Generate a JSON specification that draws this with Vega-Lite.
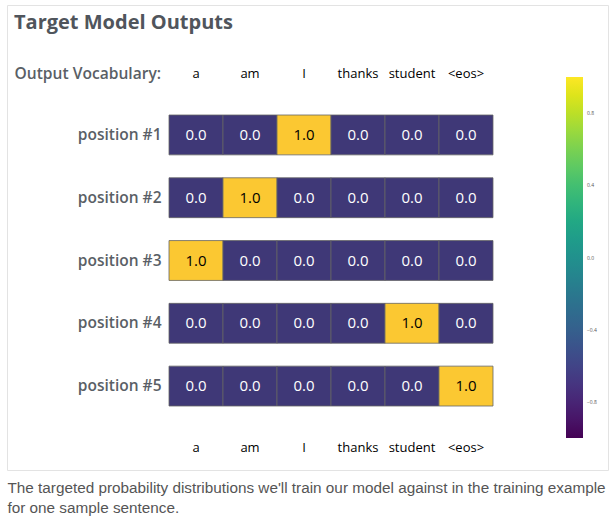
{
  "$schema": "https://vega.github.io/schema/vega-lite/v6.json",
  "autosize": {"type": "none"},
  "padding": {"left": 7, "top": 5, "right": 6, "bottom": 49},
  "width": 601,
  "height": 465,
  "background": "white",
  "view": {"stroke": "#e3e3e3", "strokeWidth": 1},
  "title": {
    "text": "Target Model Outputs",
    "anchor": "start",
    "frame": "group",
    "orient": "top",
    "offset": 0,
    "dx": 7,
    "dy": 38,
    "baseline": "middle",
    "font": "Open Sans",
    "fontSize": 20,
    "fontWeight": "bold",
    "color": "#50555c"
  },
  "data": {
    "values": [
      {"pos": "position #1", "word": "a", "value": 0},
      {"pos": "position #1", "word": "am", "value": 0},
      {"pos": "position #1", "word": "I", "value": 1},
      {"pos": "position #1", "word": "thanks", "value": 0},
      {"pos": "position #1", "word": "student", "value": 0},
      {"pos": "position #1", "word": "<eos>", "value": 0},
      {"pos": "position #2", "word": "a", "value": 0},
      {"pos": "position #2", "word": "am", "value": 1},
      {"pos": "position #2", "word": "I", "value": 0},
      {"pos": "position #2", "word": "thanks", "value": 0},
      {"pos": "position #2", "word": "student", "value": 0},
      {"pos": "position #2", "word": "<eos>", "value": 0},
      {"pos": "position #3", "word": "a", "value": 1},
      {"pos": "position #3", "word": "am", "value": 0},
      {"pos": "position #3", "word": "I", "value": 0},
      {"pos": "position #3", "word": "thanks", "value": 0},
      {"pos": "position #3", "word": "student", "value": 0},
      {"pos": "position #3", "word": "<eos>", "value": 0},
      {"pos": "position #4", "word": "a", "value": 0},
      {"pos": "position #4", "word": "am", "value": 0},
      {"pos": "position #4", "word": "I", "value": 0},
      {"pos": "position #4", "word": "thanks", "value": 0},
      {"pos": "position #4", "word": "student", "value": 1},
      {"pos": "position #4", "word": "<eos>", "value": 0},
      {"pos": "position #5", "word": "a", "value": 0},
      {"pos": "position #5", "word": "am", "value": 0},
      {"pos": "position #5", "word": "I", "value": 0},
      {"pos": "position #5", "word": "thanks", "value": 0},
      {"pos": "position #5", "word": "student", "value": 0},
      {"pos": "position #5", "word": "<eos>", "value": 1}
    ]
  },
  "encoding": {
    "x": {
      "field": "word",
      "type": "nominal",
      "sort": ["a", "am", "I", "thanks", "student", "<eos>"],
      "scale": {"range": [162, 486], "paddingInner": 0, "paddingOuter": 0},
      "axis": null
    },
    "y": {
      "field": "pos",
      "type": "nominal",
      "sort": ["position #1", "position #2", "position #3", "position #4", "position #5"],
      "scale": {"range": [110, 401], "paddingInner": 0.365, "paddingOuter": 0},
      "axis": {
        "orient": "left",
        "offset": -162,
        "title": null,
        "domain": false,
        "ticks": false,
        "labelPadding": 8,
        "labelFont": "Open Sans",
        "labelFontSize": 15.5,
        "labelFontWeight": 600,
        "labelColor": "#5a5f66"
      }
    }
  },
  "layer": [
    {
      "mark": {"type": "rect", "opacity": 0},
      "encoding": {
        "x": {
          "field": "word",
          "type": "nominal",
          "sort": ["a", "am", "I", "thanks", "student", "<eos>"],
          "axis": {
            "orient": "bottom",
            "offset": -31,
            "domain": false,
            "ticks": false,
            "labelAngle": 0,
            "labelPadding": 2,
            "labelFont": "Open Sans",
            "labelFontSize": 13,
            "labelColor": "#000000",
            "title": ["The targeted probability distributions we'll train our model against in the training example", "for one sample sentence."],
            "titleX": 0,
            "titleY": 41,
            "titleAlign": "left",
            "titleAnchor": "start",
            "titleBaseline": "top",
            "titleFont": "Liberation Sans",
            "titleFontSize": 15.3,
            "titleFontWeight": "normal",
            "titleColor": "#555555",
            "titleLineHeight": 20
          }
        },
        "color": {
          "field": "value",
          "type": "quantitative",
          "scale": {"scheme": "viridis", "domain": [-1, 1]},
          "legend": {
            "orient": "none",
            "legendX": 559,
            "legendY": 72,
            "direction": "vertical",
            "title": null,
            "gradientLength": 361,
            "gradientThickness": 17,
            "values": [-0.8, -0.4, 0, 0.4, 0.8],
            "format": ".1f",
            "labelFont": "Open Sans",
            "labelFontSize": 5,
            "labelColor": "#555555",
            "labelOffset": 4
          }
        }
      }
    },
    {
      "mark": {"type": "rect", "stroke": "#666666", "strokeWidth": 0.8},
      "encoding": {
        "x": {
          "field": "word",
          "type": "nominal",
          "sort": ["a", "am", "I", "thanks", "student", "<eos>"],
          "axis": {
            "orient": "top",
            "offset": -77,
            "domain": false,
            "ticks": false,
            "labelAngle": 0,
            "labelPadding": 2,
            "labelFont": "Open Sans",
            "labelFontSize": 13,
            "labelColor": "#000000",
            "title": "Output Vocabulary:",
            "titleX": 7,
            "titleY": -9,
            "titleAlign": "left",
            "titleAnchor": "start",
            "titleBaseline": "middle",
            "titleFont": "Open Sans",
            "titleFontSize": 15.6,
            "titleFontWeight": 600,
            "titleColor": "#5a5f66"
          }
        },
        "color": {
          "field": "value",
          "type": "quantitative",
          "scale": {"domain": [0, 1], "range": ["#3f3877", "#fbc832"]},
          "legend": null
        }
      }
    },
    {
      "mark": {"type": "text", "font": "Open Sans", "fontSize": 15},
      "encoding": {
        "text": {"field": "value", "type": "quantitative", "format": ".1f"},
        "color": {"condition": {"test": "datum.value > 0.5", "value": "#000000"}, "value": "#ffffff"}
      }
    }
  ],
  "resolve": {"scale": {"color": "independent"}, "axis": {"x": "independent"}}
}
